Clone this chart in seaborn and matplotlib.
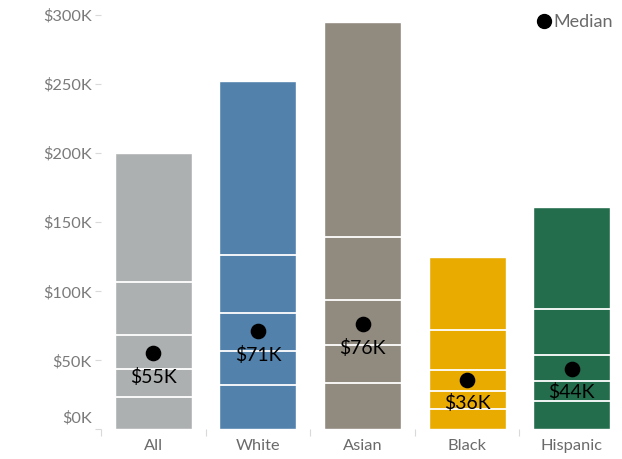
import pandas as pd
import matplotlib
matplotlib.use("Agg")
import matplotlib.pyplot as plt
import matplotlib.transforms as mtransforms
from matplotlib.lines import Line2D
import seaborn as sns
import numpy as np

# income distribution by group, in $K
groups = ["All", "White", "Asian", "Black", "Hispanic"]
p95 = [200, 252, 295, 125, 161]
p80 = [107, 126, 139, 72, 87]
p60 = [68.5, 84.5, 93.5, 43, 54]
p40 = [43.5, 57, 61, 28, 35]
p20 = [23.5, 32.5, 33.5, 15, 20.5]
median = [55, 71, 76, 36, 44]
median_labels = ["$55K", "$71K", "$76K", "$36K", "$44K"]
bar_colors = ["#ADB0B1", "#5281AC", "#918A7F", "#E9AB00", "#236C4C"]
yticks = [0, 50, 100, 150, 200, 250, 300]
ytick_labels = ["$0K", "$50K", "$100K", "$150K", "$200K", "$250K", "$300K"]

df = pd.DataFrame({"group": groups, "top": p95, "median": median})

sns.set_style("white")
plt.rcParams["font.family"] = ["Lato", "DejaVu Sans"]

fig = plt.figure(figsize=(6.22, 4.59), dpi=100)
ax = fig.add_axes([0.1624, 0.0643, 0.8410, 0.9030])

sns.barplot(data=df, x="group", y="top", hue="group", palette=bar_colors,
            width=0.735, saturation=1, legend=False, ax=ax)

# white separators at the percentile boundaries
xpos = np.arange(len(groups))
half = 0.735 / 2
for vals in [p80, p60, p40, p20]:
    ax.hlines(vals, xpos - half, xpos + half, colors="white", linewidth=1.3, zorder=3)

# median dots and labels
ax.scatter(xpos, median, s=105, color="black", zorder=4)
for x, m, lab in zip(xpos, median, median_labels):
    ax.annotate(lab, (x, m), xytext=(0, -17), textcoords="offset points",
                ha="center", va="center", fontsize=14, color="black", zorder=5)

ax.set_ylim(0, 300)
ax.set_xlim(-0.5, len(groups) - 0.5)
ax.set_yticks(yticks)
ax.set_yticklabels(ytick_labels)
ax.set_xlabel("")
ax.set_ylabel("")
for s in ax.spines.values():
    s.set_visible(False)

ax.tick_params(axis="y", length=4.5, width=0.8, color="#D9D9D9", labelsize=11.8,
               labelcolor="#7A7A7A", pad=2, left=True)
ax.tick_params(axis="x", which="major", length=0, labelsize=11.8,
               labelcolor="#6A6A6A", pad=7)
ax.set_xticks(np.arange(-0.5, len(groups), 1), minor=True)
ax.tick_params(axis="x", which="minor", length=5, width=0.8, color="#D9D9D9",
               bottom=True)

# lift the $0K label a bit like the original
lbl0 = ax.get_yticklabels()[0]
lbl0.set_transform(lbl0.get_transform() + mtransforms.ScaledTranslation(0, 9 / 72, fig.dpi_scale_trans))

handle = Line2D([], [], marker="o", linestyle="", color="black", markersize=10)
leg = ax.legend([handle], ["Median"], loc="center right", bbox_to_anchor=(613 / 622, 1 - 22 / 459),
                bbox_transform=fig.transFigure, frameon=False, handletextpad=0.05,
                handlelength=1.0, borderpad=0, borderaxespad=0, fontsize=13)
for t in leg.get_texts():
    t.set_color("#6A6A6A")

plt.savefig("out.png", dpi=100)
plt.close()
